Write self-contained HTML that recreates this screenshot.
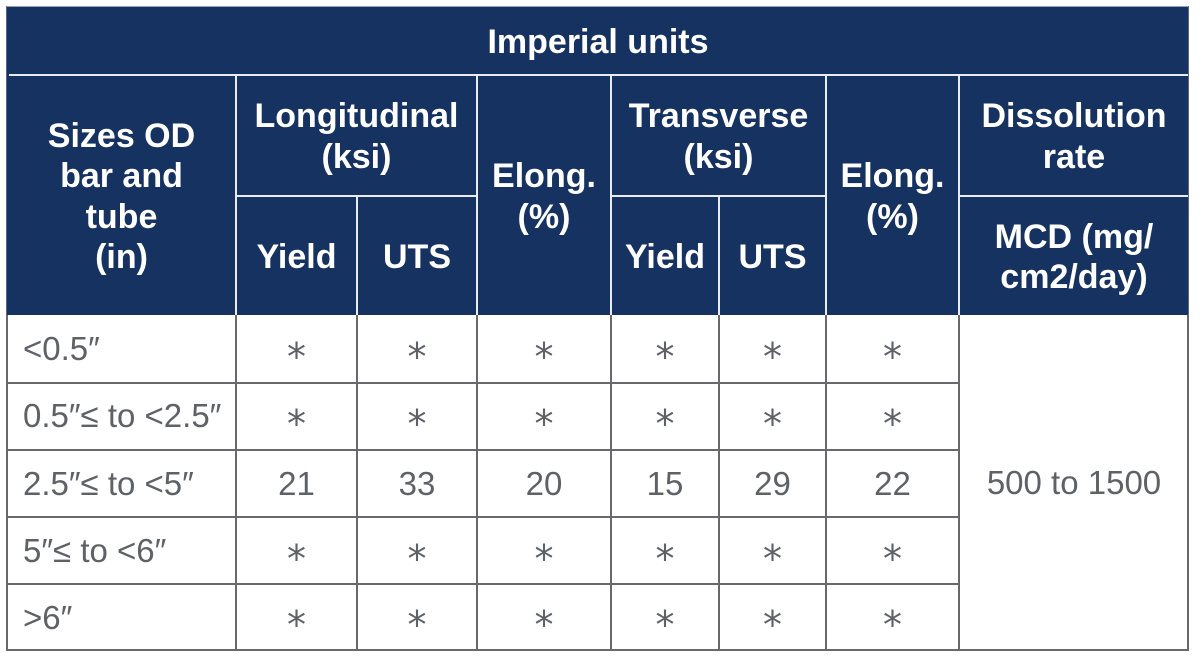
<!DOCTYPE html>
<html>
<head>
<meta charset="utf-8">
<style>
  html,body{margin:0;padding:0;background:#fff;}
  body{width:1200px;height:663px;position:relative;overflow:hidden;font-family:"Liberation Sans",Arial,sans-serif;}
  .hbg{position:absolute;left:7px;top:7px;width:1182px;height:308px;background:#163261;}
  .bbg{position:absolute;left:7px;top:315px;width:1182px;height:336px;background:#fff;}
  .c{position:absolute;display:flex;align-items:center;justify-content:center;text-align:center;}
  .h{color:#fff;font-weight:bold;font-size:34px;line-height:40.5px;padding-top:3px;box-sizing:border-box;}
  .b{color:#5e6166;font-size:33px;line-height:33px;}
  .l{justify-content:flex-start;padding-left:16px;box-sizing:border-box;}
  .ast{font-family:"DejaVu Sans",sans-serif;font-size:38px;line-height:38px;position:relative;top:8px;}
  .w{position:absolute;background:#e8ebf0;}
  .g{position:absolute;background:#67696d;}
</style>
</head>
<body>
<div class="hbg"></div>
<div class="bbg"></div>

<!-- header text -->
<div class="c h" style="left:7px;top:7px;width:1182px;height:67px;">Imperial units</div>
<div class="c h" style="left:7px;top:75px;width:229px;height:240px;">Sizes OD<br>bar and<br>tube<br>(in)</div>
<div class="c h" style="left:236px;top:75px;width:241px;height:120px;">Longitudinal<br>(ksi)</div>
<div class="c h" style="left:236px;top:196px;width:121px;height:119px;">Yield</div>
<div class="c h" style="left:357px;top:196px;width:120px;height:119px;">UTS</div>
<div class="c h" style="left:477px;top:75px;width:134px;height:240px;">Elong.<br>(%)</div>
<div class="c h" style="left:611px;top:75px;width:215px;height:120px;">Transverse<br>(ksi)</div>
<div class="c h" style="left:611px;top:196px;width:108px;height:119px;">Yield</div>
<div class="c h" style="left:719px;top:196px;width:107px;height:119px;">UTS</div>
<div class="c h" style="left:826px;top:75px;width:133px;height:240px;">Elong.<br>(%)</div>
<div class="c h" style="left:959px;top:75px;width:230px;height:120px;">Dissolution<br>rate</div>
<div class="c h" style="left:959px;top:196px;width:230px;height:119px;">MCD (mg/<br>cm2/day)</div>

<!-- body rows -->
<!-- row 1 -->
<div class="c b l" style="left:7px;top:315px;width:229px;height:67px;">&lt;0.5″</div>
<div class="c b" style="left:236px;top:315px;width:121px;height:67px;"><span class="ast">*</span></div>
<div class="c b" style="left:357px;top:315px;width:120px;height:67px;"><span class="ast">*</span></div>
<div class="c b" style="left:477px;top:315px;width:134px;height:67px;"><span class="ast">*</span></div>
<div class="c b" style="left:611px;top:315px;width:108px;height:67px;"><span class="ast">*</span></div>
<div class="c b" style="left:719px;top:315px;width:107px;height:67px;"><span class="ast">*</span></div>
<div class="c b" style="left:826px;top:315px;width:133px;height:67px;"><span class="ast">*</span></div>
<!-- row 2 -->
<div class="c b l" style="left:7px;top:382px;width:229px;height:67px;">0.5″≤ to &lt;2.5″</div>
<div class="c b" style="left:236px;top:382px;width:121px;height:67px;"><span class="ast">*</span></div>
<div class="c b" style="left:357px;top:382px;width:120px;height:67px;"><span class="ast">*</span></div>
<div class="c b" style="left:477px;top:382px;width:134px;height:67px;"><span class="ast">*</span></div>
<div class="c b" style="left:611px;top:382px;width:108px;height:67px;"><span class="ast">*</span></div>
<div class="c b" style="left:719px;top:382px;width:107px;height:67px;"><span class="ast">*</span></div>
<div class="c b" style="left:826px;top:382px;width:133px;height:67px;"><span class="ast">*</span></div>
<!-- row 3 -->
<div class="c b l" style="left:7px;top:450px;width:229px;height:67px;">2.5″≤ to &lt;5″</div>
<div class="c b" style="left:236px;top:450px;width:121px;height:67px;">21</div>
<div class="c b" style="left:357px;top:450px;width:120px;height:67px;">33</div>
<div class="c b" style="left:477px;top:450px;width:134px;height:67px;">20</div>
<div class="c b" style="left:611px;top:450px;width:108px;height:67px;">15</div>
<div class="c b" style="left:719px;top:450px;width:107px;height:67px;">29</div>
<div class="c b" style="left:826px;top:450px;width:133px;height:67px;">22</div>
<!-- row 4 -->
<div class="c b l" style="left:7px;top:517px;width:229px;height:67px;">5″≤ to &lt;6″</div>
<div class="c b" style="left:236px;top:517px;width:121px;height:67px;"><span class="ast">*</span></div>
<div class="c b" style="left:357px;top:517px;width:120px;height:67px;"><span class="ast">*</span></div>
<div class="c b" style="left:477px;top:517px;width:134px;height:67px;"><span class="ast">*</span></div>
<div class="c b" style="left:611px;top:517px;width:108px;height:67px;"><span class="ast">*</span></div>
<div class="c b" style="left:719px;top:517px;width:107px;height:67px;"><span class="ast">*</span></div>
<div class="c b" style="left:826px;top:517px;width:133px;height:67px;"><span class="ast">*</span></div>
<!-- row 5 -->
<div class="c b l" style="left:7px;top:584px;width:229px;height:66px;">&gt;6″</div>
<div class="c b" style="left:236px;top:584px;width:121px;height:66px;"><span class="ast">*</span></div>
<div class="c b" style="left:357px;top:584px;width:120px;height:66px;"><span class="ast">*</span></div>
<div class="c b" style="left:477px;top:584px;width:134px;height:66px;"><span class="ast">*</span></div>
<div class="c b" style="left:611px;top:584px;width:108px;height:66px;"><span class="ast">*</span></div>
<div class="c b" style="left:719px;top:584px;width:107px;height:66px;"><span class="ast">*</span></div>
<div class="c b" style="left:826px;top:584px;width:133px;height:66px;"><span class="ast">*</span></div>
<!-- merged -->
<div class="c b" style="left:959px;top:315px;width:230px;height:335px;">500 to 1500</div>

<!-- white header lines -->
<div class="w" style="left:9px;top:73.5px;width:1179px;height:2px;"></div>
<div class="w" style="left:236px;top:194.5px;width:241px;height:2px;"></div>
<div class="w" style="left:611px;top:194.5px;width:215px;height:2px;"></div>
<div class="w" style="left:959px;top:194.5px;width:229px;height:2px;"></div>
<div class="w" style="left:235px;top:75px;width:2px;height:240px;"></div>
<div class="w" style="left:356px;top:195px;width:2px;height:120px;"></div>
<div class="w" style="left:476px;top:75px;width:2px;height:240px;"></div>
<div class="w" style="left:610px;top:75px;width:2px;height:240px;"></div>
<div class="w" style="left:718px;top:195px;width:2px;height:120px;"></div>
<div class="w" style="left:825px;top:75px;width:2px;height:240px;"></div>
<div class="w" style="left:958px;top:75px;width:2px;height:240px;"></div>

<!-- gray body lines -->
<div class="g" style="left:6px;top:315px;width:2px;height:336px;"></div>
<div class="g" style="left:235px;top:315px;width:2px;height:336px;"></div>
<div class="g" style="left:356px;top:315px;width:2px;height:336px;"></div>
<div class="g" style="left:476px;top:315px;width:2px;height:336px;"></div>
<div class="g" style="left:610px;top:315px;width:2px;height:336px;"></div>
<div class="g" style="left:718px;top:315px;width:2px;height:336px;"></div>
<div class="g" style="left:825px;top:315px;width:2px;height:336px;"></div>
<div class="g" style="left:958px;top:315px;width:2px;height:336px;"></div>
<div class="g" style="left:1187px;top:315px;width:2px;height:336px;"></div>
<div class="g" style="left:6px;top:381.5px;width:953px;height:2px;"></div>
<div class="g" style="left:6px;top:448.5px;width:953px;height:2px;"></div>
<div class="g" style="left:6px;top:516px;width:953px;height:2px;"></div>
<div class="g" style="left:6px;top:583px;width:953px;height:2px;"></div>
<div class="g" style="left:6px;top:649px;width:1183px;height:2px;"></div>
<!-- faint outer edge of header -->
<div style="position:absolute;left:6px;top:6px;width:1183px;height:1px;background:#9aa3b3;"></div>
<div style="position:absolute;left:6px;top:6px;width:1px;height:309px;background:#5a6a85;"></div>
<div style="position:absolute;left:1188px;top:6px;width:1px;height:309px;background:#5a6a85;"></div>
</body>
</html>
